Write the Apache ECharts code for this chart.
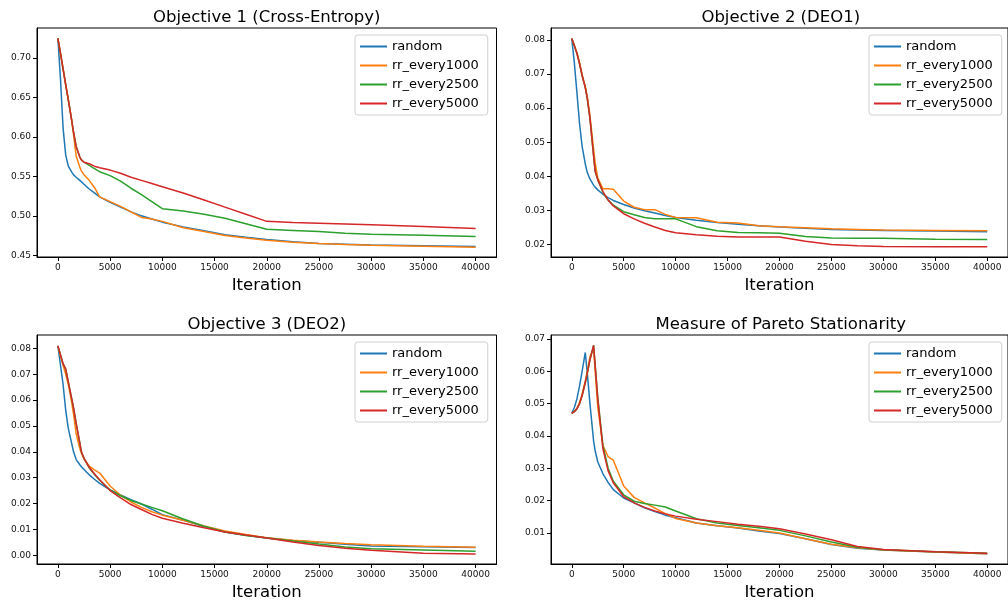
<!DOCTYPE html>
<html>
<head>
<meta charset="utf-8">
<title>Objectives</title>
<script src="https://cdn.jsdelivr.net/npm/echarts@6/dist/echarts.min.js"></script>
<style>
  html, body { margin: 0; padding: 0; background: #fff; }
  #chart { width: 1008px; height: 603px; }
</style>
</head>
<body>
<div id="chart"></div>
<script>
const iterations = [0, 250, 500, 750, 1000, 1300, 1500, 1750, 2100, 2250, 2500, 3000, 3500, 4000, 5000,
  6000, 7000, 8000, 9000, 10000, 12000, 14000, 16000, 18000, 20000, 22500, 25000, 27500, 30000, 35000, 40000]
const xTicks = [0, 5000, 10000, 15000, 20000, 25000, 30000, 35000, 40000]
const seriesNames = ['random', 'rr_every1000', 'rr_every2500', 'rr_every5000']
const colors = ['#1f77b4', '#ff7f0e', '#2ca02c', '#d62728']
const titles = ['Objective 1 (Cross-Entropy)', 'Objective 2 (DEO1)', 'Objective 3 (DEO2)', 'Measure of Pareto Stationarity']

// Objective 1 (Cross-Entropy)
const ceRandom = [0.725, 0.673, 0.611, 0.577, 0.563, 0.556, 0.552, 0.549, 0.545, 0.543, 0.540, 0.534, 0.529, 0.524, 0.517,
  0.511, 0.505, 0.500, 0.496, 0.492, 0.486, 0.481, 0.476, 0.473, 0.470, 0.467, 0.465, 0.464, 0.463, 0.462, 0.461]
const ceRr1000 = [0.725, 0.706, 0.686, 0.666, 0.647, 0.623, 0.603, 0.576, 0.562, 0.557, 0.552, 0.545, 0.536, 0.524, 0.518,
  0.512, 0.505, 0.498, 0.496, 0.493, 0.485, 0.480, 0.475, 0.472, 0.469, 0.4665, 0.4648, 0.4637, 0.4627, 0.4614, 0.4602]
const ceRr2500 = [0.725, 0.706, 0.686, 0.666, 0.647, 0.623, 0.606, 0.588, 0.5745, 0.571, 0.568, 0.564, 0.560, 0.556, 0.551,
  0.544, 0.535, 0.527, 0.518, 0.509, 0.506, 0.502, 0.497, 0.490, 0.483, 0.4815, 0.480, 0.478, 0.4767, 0.4754, 0.4737]
const ceRr5000 = [0.725, 0.706, 0.686, 0.666, 0.647, 0.623, 0.606, 0.588, 0.5745, 0.571, 0.568, 0.566, 0.563, 0.561, 0.558,
  0.554, 0.549, 0.545, 0.541, 0.537, 0.529, 0.520, 0.511, 0.502, 0.493, 0.4917, 0.4907, 0.4897, 0.4886, 0.4865, 0.4839]

// Objective 2 (DEO1)
const deo1Random = [0.0804, 0.0732, 0.0644, 0.0554, 0.0487, 0.0436, 0.0410, 0.0392, 0.0374, 0.0368, 0.0360, 0.0347, 0.0337, 0.0329, 0.0317,
  0.0307, 0.0299, 0.0292, 0.0285, 0.0279, 0.0271, 0.0264, 0.0259, 0.0255, 0.0251, 0.0247, 0.0244, 0.0242, 0.0241, 0.0239, 0.0237]
const deo1Rr1000 = [0.0804, 0.0784, 0.0762, 0.0733, 0.0698, 0.0664, 0.0632, 0.0578, 0.0480, 0.0440, 0.0395, 0.0363, 0.0363, 0.0362, 0.0327,
  0.0309, 0.0302, 0.0302, 0.0288, 0.0279, 0.0278, 0.0265, 0.0263, 0.0255, 0.0252, 0.0249, 0.0246, 0.0244, 0.0242, 0.0241, 0.0240]
const deo1Rr2500 = [0.0804, 0.0783, 0.0760, 0.0730, 0.0695, 0.0660, 0.0627, 0.0570, 0.0460, 0.0415, 0.0390, 0.0352, 0.0330, 0.0315, 0.0296,
  0.0287, 0.0279, 0.0275, 0.0275, 0.0275, 0.0252, 0.0240, 0.0235, 0.0234, 0.0233, 0.0223, 0.0219, 0.0218, 0.0218, 0.0215, 0.0214]
const deo1Rr5000 = [0.0804, 0.0783, 0.0760, 0.0730, 0.0695, 0.0660, 0.0627, 0.0570, 0.0460, 0.0415, 0.0390, 0.0355, 0.0330, 0.0313, 0.0290,
  0.0275, 0.0262, 0.0251, 0.0241, 0.0234, 0.0228, 0.0224, 0.0222, 0.0222, 0.0222, 0.0209, 0.0200, 0.0196, 0.0194, 0.0193, 0.0193]

// Objective 3 (DEO2)
const deo2Random = [0.081, 0.0735, 0.066, 0.056, 0.049, 0.0436, 0.040, 0.037, 0.035, 0.0342, 0.0332, 0.0311, 0.0294, 0.0278, 0.0253,
  0.0233, 0.0215, 0.0198, 0.0178, 0.0157, 0.0135, 0.0111, 0.0090, 0.0077, 0.0067, 0.0057, 0.0050, 0.0042, 0.0036, 0.0033, 0.0030]
const deo2Rr1000 = [0.081, 0.077, 0.0735, 0.070, 0.066, 0.0597, 0.0545, 0.047, 0.0413, 0.0395, 0.0372, 0.0345, 0.0330, 0.0318, 0.0268,
  0.0232, 0.0206, 0.0185, 0.0168, 0.0155, 0.0135, 0.0113, 0.0094, 0.0080, 0.0068, 0.0058, 0.0051, 0.0045, 0.0040, 0.0035, 0.0031]
const deo2Rr2500 = [0.081, 0.0775, 0.074, 0.072, 0.067, 0.061, 0.057, 0.051, 0.0435, 0.040, 0.0375, 0.0338, 0.0312, 0.0290, 0.0252,
  0.0230, 0.0212, 0.0198, 0.0185, 0.0172, 0.0140, 0.0112, 0.0090, 0.0076, 0.0067, 0.0055, 0.0043, 0.0032, 0.0025, 0.0020, 0.0015]
const deo2Rr5000 = [0.081, 0.0775, 0.074, 0.072, 0.067, 0.061, 0.057, 0.051, 0.0435, 0.040, 0.0375, 0.0340, 0.0315, 0.0292, 0.0250,
  0.0222, 0.0196, 0.0177, 0.0158, 0.0143, 0.0124, 0.0106, 0.0090, 0.0078, 0.0067, 0.0051, 0.0038, 0.0027, 0.0019, 0.0008, 0.0005]

// Measure of Pareto Stationarity
const parRandom = [0.047, 0.0488, 0.0515, 0.0555, 0.060, 0.0658, 0.0592, 0.050, 0.0385, 0.0354, 0.032, 0.0283, 0.0256, 0.0234, 0.0208,
  0.0193, 0.0178, 0.0166, 0.0155, 0.0147, 0.0131, 0.0122, 0.0115, 0.0106, 0.0098, 0.0082, 0.0064, 0.0053, 0.0047, 0.0041, 0.0036]
const parRr1000 = [0.047, 0.0476, 0.0486, 0.0503, 0.053, 0.057, 0.060, 0.0645, 0.067, 0.060, 0.049, 0.037, 0.0336, 0.0325, 0.0245,
  0.0210, 0.0193, 0.0177, 0.0160, 0.0145, 0.0131, 0.0122, 0.0116, 0.0108, 0.0100, 0.0082, 0.0065, 0.0054, 0.0047, 0.0041, 0.0036]
const parRr2500 = [0.047, 0.0475, 0.0484, 0.050, 0.0525, 0.0565, 0.0595, 0.0635, 0.068, 0.062, 0.052, 0.037, 0.030, 0.026, 0.0218,
  0.0198, 0.0191, 0.0186, 0.0180, 0.0168, 0.0144, 0.0131, 0.0123, 0.0116, 0.0108, 0.0091, 0.0072, 0.0056, 0.0048, 0.0042, 0.0037]
const parRr5000 = [0.047, 0.0475, 0.0484, 0.050, 0.0525, 0.0565, 0.0595, 0.0635, 0.068, 0.062, 0.0515, 0.036, 0.0292, 0.0255, 0.0212,
  0.0193, 0.0179, 0.0168, 0.0159, 0.0152, 0.0142, 0.0135, 0.0127, 0.0121, 0.0113, 0.0097, 0.0079, 0.0058, 0.0049, 0.0042, 0.0037]

const yTicks1 = [0.45, 0.50, 0.55, 0.60, 0.65, 0.70]
const yTicks2 = [0.02, 0.03, 0.04, 0.05, 0.06, 0.07, 0.08]
const yTicks3 = [0.00, 0.01, 0.02, 0.03, 0.04, 0.05, 0.06, 0.07, 0.08]
const yTicks4 = [0.01, 0.02, 0.03, 0.04, 0.05, 0.06, 0.07]

const font = 'DejaVu Sans'

// one entry per subplot: where it sits, its y range and its curves
const panels = [
  { left: 37, top: 28, yMin: 0.4478, yMax: 0.7382, ticks: yTicks1, lines: [ceRandom, ceRr1000, ceRr2500, ceRr5000] },
  { left: 551, top: 28, yMin: 0.0163, yMax: 0.0835, ticks: yTicks2, lines: [deo1Random, deo1Rr1000, deo1Rr2500, deo1Rr5000] },
  { left: 37, top: 335, yMin: -0.0034, yMax: 0.0852, ticks: yTicks3, lines: [deo2Random, deo2Rr1000, deo2Rr2500, deo2Rr5000] },
  { left: 551, top: 335, yMin: 0.0004, yMax: 0.0712, ticks: yTicks4, lines: [parRandom, parRr1000, parRr2500, parRr5000] }
]
const gridW = 459.5
const gridH = 229

function pairs(vals) {
  return iterations.map((x, i) => [x, vals[i]])
}

const option = {
  animation: false,
  backgroundColor: '#fff',
  textStyle: { fontFamily: font },
  title: [],
  legend: [],
  grid: [],
  xAxis: [],
  yAxis: [],
  series: []
}

panels.forEach((p, k) => {
  option.grid.push({
    left: p.left, top: p.top, width: gridW, height: gridH,
    show: true, borderColor: '#000', borderWidth: 1, backgroundColor: 'transparent'
  })
  option.title.push({
    text: titles[k],
    left: p.left + gridW / 2,
    top: p.top - 19,
    textAlign: 'center',
    padding: 0,
    textStyle: { fontFamily: font, fontSize: 16.5, fontWeight: 'normal', color: '#000' }
  })
  option.xAxis.push({
    type: 'value', gridIndex: k, min: -2000, max: 42000,
    name: 'Iteration', nameLocation: 'middle', nameGap: 20,
    nameTextStyle: { fontFamily: font, fontSize: 16.5, color: '#000' },
    axisLine: { show: true, onZero: false, lineStyle: { color: '#000', width: 1 } },
    axisTick: { show: true, customValues: xTicks, length: 4, lineStyle: { color: '#000', width: 1 } },
    axisLabel: {
      customValues: xTicks, fontFamily: font, fontSize: 9, color: '#111', margin: 6,
      formatter: v => String(v)
    },
    splitLine: { show: false }
  })
  option.yAxis.push({
    type: 'value', gridIndex: k, min: p.yMin, max: p.yMax,
    axisLine: { show: true, onZero: false, lineStyle: { color: '#000', width: 1 } },
    axisTick: { show: true, customValues: p.ticks, length: 4, lineStyle: { color: '#000', width: 1 } },
    axisLabel: {
      customValues: p.ticks, fontFamily: font, fontSize: 9, color: '#111', margin: 6,
      formatter: v => v.toFixed(2)
    },
    splitLine: { show: false }
  })
  option.legend.push({
    data: seriesNames,
    orient: 'vertical',
    left: p.left + 318,
    top: p.top + 7,
    icon: 'rect',
    itemWidth: 27,
    itemHeight: 2,
    itemGap: 6,
    padding: [5, 9, 5, 5],
    borderColor: '#d0d0d0',
    borderWidth: 1,
    borderRadius: 3,
    backgroundColor: 'rgba(255,255,255,0.8)',
    textStyle: { fontFamily: font, fontSize: 13, lineHeight: 13, color: '#000' }
  })
  p.lines.forEach((vals, s) => {
    option.series.push({
      name: seriesNames[s],
      type: 'line',
      xAxisIndex: k,
      yAxisIndex: k,
      data: pairs(vals),
      showSymbol: false,
      symbol: 'none',
      color: colors[s],
      itemStyle: { color: colors[s] },
      lineStyle: { color: colors[s], width: 1.5 }
    })
  })
})

echarts.init(document.getElementById('chart')).setOption(option)
</script>
</body>
</html>
